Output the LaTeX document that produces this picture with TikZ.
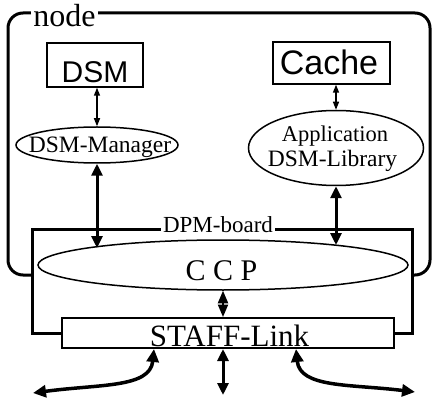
\documentclass[tikz,border=0pt]{standalone}
\usepackage{fontspec}
\setmainfont{Liberation Serif}
\newfontfamily\hsans{Liberation Sans}
\usetikzlibrary{arrows.meta,shapes.geometric,calc}
\begin{document}
\begin{tikzpicture}[x=1pt,y=-1pt,
  boxshape/.style={draw,line width=1.4pt,inner sep=0pt,fill=white},
  ellshape/.style={ellipse,draw,line width=1.5pt,inner sep=0pt,fill=white},
  txt/.style={inner sep=0pt,anchor=base},
  thinarr/.style={line width=1.4pt,{Triangle[length=8pt,width=6pt]}-{Triangle[length=8pt,width=6pt]}},
  thickarr/.style={line width=3pt,{Triangle[length=12pt,width=11pt]}-{Triangle[length=12pt,width=11pt]}},
  curvearr/.style={line width=3.5pt,{Triangle[length=13pt,width=12pt]}-{Triangle[length=13pt,width=12pt]}},
  diaarr/.style={line width=2pt,{Triangle[length=12.5pt,width=10pt]}-{Triangle[length=12.5pt,width=10pt]}},
]
\useasboundingbox (0,0) rectangle (433,403);
% outer node box
\draw[line width=3pt,rounded corners=15pt] (8,13) rectangle (430,275);
\node[txt,fill=white,inner xsep=2pt,font=\fontsize{32}{32}\selectfont] (nodelab) at (64.5,27) {node};
% DSM and Cache
\node[boxshape,minimum width=96pt,minimum height=44pt] (dsm) at (95,65) {};
\node[txt,font=\hsans\fontsize{30}{30}\selectfont] (dsmt) at (95,83) {DSM};
\node[boxshape,minimum width=117pt,minimum height=42pt] (cache) at (331.5,63) {};
\node[txt,font=\hsans\fontsize{34}{34}\selectfont] (cachet) at (329,75) {Cache};
% ellipses
\node[ellshape,minimum width=162pt,minimum height=36pt] (dsmm) at (97,145) {};
\node[txt,font=\fontsize{23.5}{23.5}\selectfont] (dsmmt) at (100,153) {DSM-Manager};
\node[ellshape,minimum width=175pt,minimum height=75pt] (app) at (336,148) {};
\node[txt,font=\fontsize{22.5}{22.5}\selectfont] (appt1) at (335,142) {Application};
\node[txt,font=\fontsize{23.5}{23.5}\selectfont] (appt2) at (332.5,167) {DSM-Library};
% DPM board
\draw[line width=3pt,fill=white] (32,229) rectangle (412,333);
\node[txt,fill=white,inner xsep=2pt,font=\fontsize{23}{23}\selectfont] (dpmt) at (218,233) {DPM-board};
\node[ellshape,minimum width=370pt,minimum height=50pt] (ccp) at (223,265) {};
\node[txt,font=\fontsize{30}{30}\selectfont] (ccpt) at (221.5,280) {C C P};
\node[boxshape,line width=2pt,minimum width=332pt,minimum height=30pt] (staff) at (228,333) {};
\node[txt,font=\fontsize{31}{31}\selectfont] (stafft) at (229.5,346) {STAFF-Link};
% connectors
\draw[thinarr] (dsm.south -| dsmm.north) -- (dsmm.north);
\draw[thinarr] (cache.south -| app.north) -- (app.north);
\draw[thickarr] (dsmm.south) -- ($(dsmm.south |- ccp.center)+(0,-17)$);
\draw[thickarr] (app.south) -- ($(app.south |- ccp.center)+(0,-20)$);
\draw[diaarr] (ccp.south) -- (ccp.south |- staff.north);
\coordinate (bc) at (223,395);
\coordinate (bl) at (33,393);
\coordinate (br) at (415,392);
\draw[thickarr] (staff.south -| bc) -- (bc);
\draw[curvearr] ([xshift=93pt]staff.south west) .. controls (150,388) and (100,384) .. (bl);
\draw[curvearr] ([xshift=-99pt]staff.south east) .. controls (300,388) and (350,384) .. (br);
\end{tikzpicture}
\end{document}
